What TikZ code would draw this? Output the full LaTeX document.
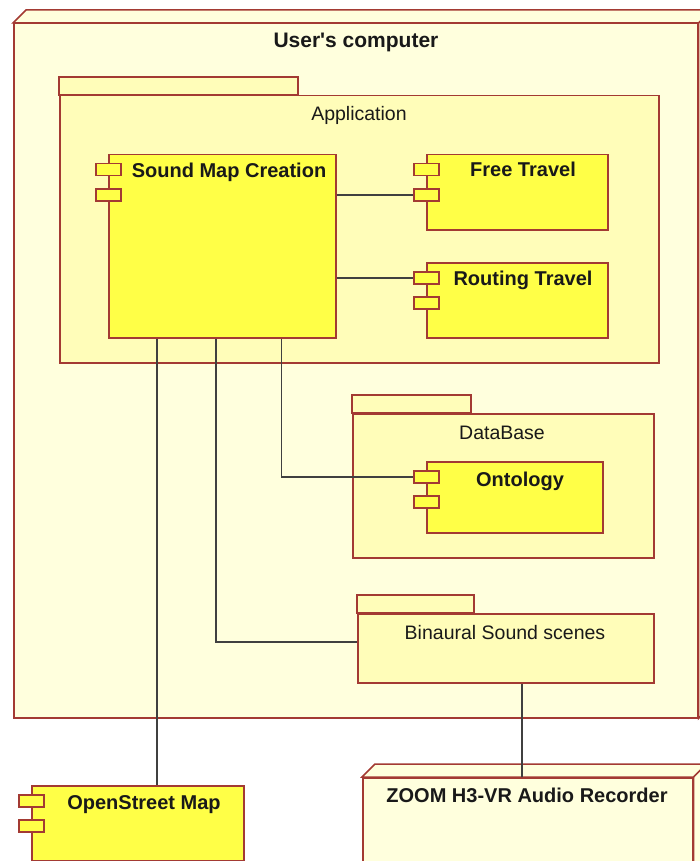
\documentclass[tikz,border=0pt]{standalone}
\usepackage{fontspec}
\setmainfont{Liberation Sans}
\usepackage{tikz}

\definecolor{nodefill}{HTML}{FFFFDD}
\definecolor{pkgfill}{HTML}{FFFDB9}
\definecolor{compfill}{HTML}{FFFF47}
\definecolor{umlred}{HTML}{A33A33}
\definecolor{wire}{HTML}{404040}

% two little port boxes on the left side of a component
\newcommand{\ports}[1]{%
	\node[port,anchor=north west] (#1-p1) at ([shift={(-13,9)}]#1.north west) {};
	\node[port,anchor=north west] (#1-p2) at ([shift={(-13,34)}]#1.north west) {};}
% tab of a package
\newcommand{\pkgtab}[2]{%
	\draw[border,fill=pkgfill] (#1.north west) rectangle ++(#2,-18);}
% top and right faces of a node box
\newcommand{\depth}[1]{%
	\draw[border,fill=nodefill] (#1.north west) -- ++(13,-13) -- ([shift={(13,-13)}]#1.north east) -- ([shift={(13,-13)}]#1.south east) -- (#1.south east) -- (#1.north east) -- cycle;
	\draw[border] (#1.north east) -- ++(13,-13);}

\begin{document}
\begin{tikzpicture}[x=1pt,y=-1pt,
		border/.style={draw=umlred,line width=1.5pt},
		box/.style={border,anchor=north west,inner sep=0pt},
		node3d/.style={box,fill=nodefill},
		pkg/.style={box,fill=pkgfill},
		comp/.style={box,fill=compfill},
		port/.style={border,fill=compfill,inner sep=0pt,minimum width=25,minimum height=12},
		wire/.style={draw=wire,line width=1.5pt},
		txt/.style={anchor=base,text=black!90,inner sep=0pt,font=\fontsize{19.5}{23}\selectfont},
		title/.style={txt,font=\fontsize{20}{23}\selectfont\bfseries}]
	\useasboundingbox (0,0) rectangle (700,861);
	\clip (0,0) rectangle (700,861);

	% user's computer
	\node[node3d,minimum width=684,minimum height=694] (pc) at (13,23) {};
	\depth{pc}
	\node[title,font=\fontsize{21}{24}\selectfont\bfseries] (pc-t) at (356,48) {User\textquotesingle s computer};

	% packages
	\node[pkg,minimum width=599,minimum height=267] (app) at (59,95) {};
	\pkgtab{app}{239}
	\node[txt] (app-t) at (359,121) {Application};
	\node[pkg,minimum width=301,minimum height=144] (db) at (352,413) {};
	\pkgtab{db}{119}
	\node[txt] (db-t) at (502,439) {DataBase};
	\node[pkg,minimum width=296,minimum height=69] (bss) at (357,613) {};
	\pkgtab{bss}{117}
	\node[txt] (bss-t) at (505,639) {Binaural Sound scenes};

	% components
	\node[comp,minimum width=227,minimum height=183] (smc) at (108,154) {};
	\ports{smc}
	\node[title] (smc-t) at (229,178) {Sound Map Creation};
	\node[comp,minimum width=181,minimum height=75] (ft) at (426,154) {};
	\ports{ft}
	\node[title] (ft-t) at (523,177) {Free Travel};
	\node[comp,minimum width=181,minimum height=75] (rt) at (426,262) {};
	\ports{rt}
	\node[title] (rt-t) at (523,285) {Routing Travel};
	\node[comp,minimum width=176,minimum height=71] (on) at (426,461) {};
	\ports{on}
	\node[title] (on-t) at (520,486) {Ontology};

	% outside
	\node[comp,minimum width=212,minimum height=75] (osm) at (31,785) {};
	\ports{osm}
	\node[title] (osm-t) at (144,809) {OpenStreet Map};
	\node[node3d,minimum width=330,minimum height=110] (zoom) at (362,777) {};
	\depth{zoom}
	\node[title] (zoom-t) at (527,802) {ZOOM H3-VR Audio Recorder};

	% connectors
	\draw[wire] (ft-p2.west -| smc.east) -- (ft-p2.west);
	\draw[wire] (rt-p1.west -| smc.east) -- (rt-p1.west);
	\draw[wire] ([xshift=-55pt]smc.south east) |- (on-p1.west);
	\draw[wire] ([xshift=108pt]smc.south west) |- ([yshift=6.5pt]bss.west);
	\coordinate (osmtap) at ([xshift=49pt]smc.south west);
	\draw[wire] (osmtap) -- (osmtap |- osm.north);
	\coordinate (zoomtap) at ([xshift=16pt]bss.south);
	\draw[wire] (zoomtap) -- (zoomtap |- zoom.north) -- ++(0,-13);
\end{tikzpicture}
\end{document}
